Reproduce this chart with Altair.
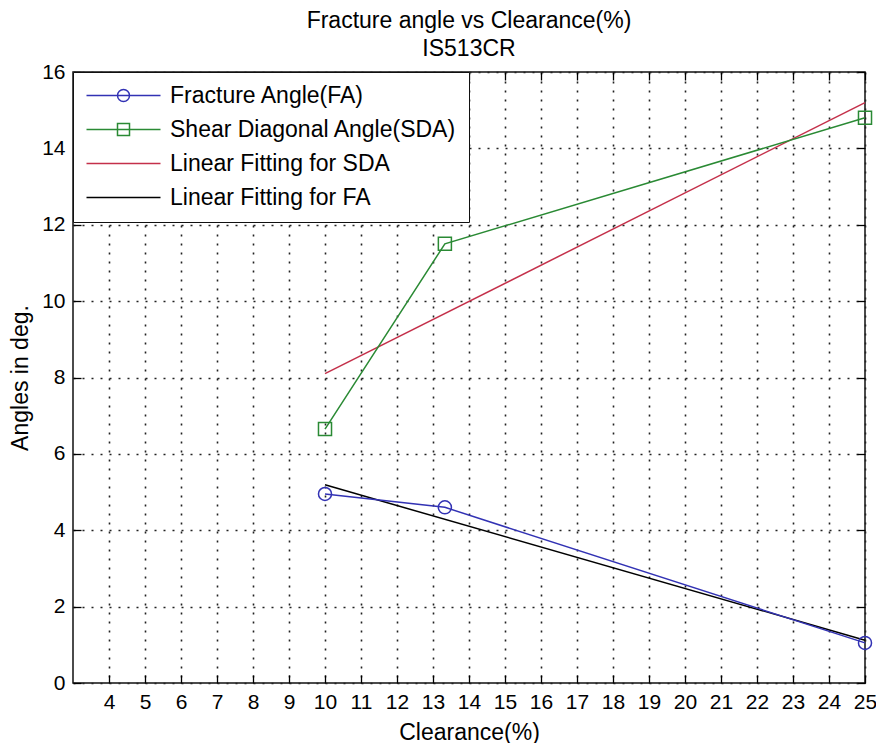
import altair as alt
import pandas as pd

# ---- data ----
clearance = [10, 13.33, 25]
fa_angle = [4.95, 4.6, 1.05]
sda_angle = [6.65, 11.5, 14.8]
fit_x = [10, 25]
fit_sda = [8.1, 15.2]
fit_fa = [5.19, 1.12]

series = ["Fracture Angle(FA)", "Shear Diagonal Angle(SDA)",
          "Linear Fitting for SDA", "Linear Fitting for FA"]
colors = ["#3232b4", "#2a8a34", "#c4304a", "#000000"]
x_ticks = list(range(4, 26))
y_ticks = list(range(0, 17, 2))

# legend symbols: line with marker (custom SVG paths)
legend_paths = [
    "M-1,0H6.4M3.3,0A0.6,0.6,0,1,1,2.1,0A0.6,0.6,0,1,1,3.3,0Z",
    "M-1,0H6.4M2.1,-0.6H3.3V0.6H2.1Z",
    "M-1,0H6.4",
    "M-1,0H6.4",
]

rows = []
for x, y in zip(clearance, fa_angle):
    rows.append({"c": x, "a": y, "s": series[0], "kind": "data"})
for x, y in zip(clearance, sda_angle):
    rows.append({"c": x, "a": y, "s": series[1], "kind": "data"})
for x, y in zip(fit_x, fit_sda):
    rows.append({"c": x, "a": y, "s": series[2], "kind": "fit"})
for x, y in zip(fit_x, fit_fa):
    rows.append({"c": x, "a": y, "s": series[3], "kind": "fit"})
df = pd.DataFrame(rows)

FONT = "Liberation Sans"
x_scale = alt.Scale(domain=[3, 25], nice=False, zero=False)
y_scale = alt.Scale(domain=[0, 16], nice=False, zero=False)
color_enc = alt.Color("s:N", scale=alt.Scale(domain=series, range=colors), legend=None)

grid_common = dict(grid=True, gridColor="#222222", gridDash=[2, 7], gridWidth=1.6,
                   ticks=False, domain=False, labelFont=FONT, labelFontSize=21,
                   labelColor="black", titleFont=FONT, titleFontSize=23,
                   titleFontWeight="normal", titleColor="black")

x_main = alt.Axis(orient="bottom", values=x_ticks, labelPadding=8, title="Clearance(%)",
                  titlePadding=9, labelFlush=False, **grid_common)
y_main = alt.Axis(orient="left", values=y_ticks, labelPadding=8, title="Angles in deg.",
                  titlePadding=9, **grid_common)

def inward(orient, values):
    return alt.Axis(orient=orient, values=values, offset=-8, tickSize=8, tickColor="black",
                    tickWidth=1.3, labels=False, domain=False, grid=False, title=None)

fit_layer = alt.Chart(df).transform_filter(alt.datum.kind == "fit").mark_line(
    strokeWidth=1.5).encode(
    x=alt.X("c:Q", scale=x_scale, axis=x_main),
    y=alt.Y("a:Q", scale=y_scale, axis=y_main),
    color=color_enc,
)

data_lines = alt.Chart(df).transform_filter(alt.datum.kind == "data").mark_line(
    strokeWidth=1.5).encode(
    x=alt.X("c:Q", scale=x_scale, axis=inward("bottom", x_ticks)),
    y=alt.Y("a:Q", scale=y_scale, axis=inward("left", y_ticks)),
    color=color_enc,
)

points = alt.Chart(df).transform_filter(alt.datum.kind == "data").mark_point(
    filled=False, size=170, strokeWidth=1.5, opacity=1).encode(
    x=alt.X("c:Q", scale=x_scale, axis=inward("top", x_ticks)),
    y=alt.Y("a:Q", scale=y_scale, axis=inward("right", y_ticks)),
    color=color_enc,
    shape=alt.Shape("s:N", scale=alt.Scale(domain=series[:2], range=["circle", "square"]),
                    legend=None),
)

leg = alt.Legend(title=None, orient="none", legendX=0, legendY=0)
legend_layer = alt.Chart(df).transform_filter("false").mark_point(
    filled=False, opacity=1).encode(
    color=alt.Color("s:N", scale=alt.Scale(domain=series, range=colors), legend=leg),
    shape=alt.Shape("s:N", scale=alt.Scale(domain=series, range=legend_paths), legend=leg),
)

chart = alt.layer(fit_layer, data_lines, points, legend_layer).resolve_scale(
    shape="independent", color="independent").resolve_axis(
    x="independent", y="independent").properties(
    width=792, height=611,
    autosize=alt.AutoSizeParams(type="none"),
    padding={"left": 65, "top": 64, "right": 11, "bottom": 60},
    title=alt.TitleParams(text=["Fracture angle vs Clearance(%)", "IS513CR"],
                          font=FONT, fontSize=23, fontWeight="normal", color="black",
                          anchor="middle", offset=0, lineHeight=28),
).configure_view(stroke="#111111", strokeWidth=1.5).configure_legend(
    strokeColor="#111111", fillColor="white", padding=12, labelFont=FONT,
    labelFontSize=23, labelColor="black", symbolSize=400, symbolStrokeWidth=1.5,
    labelOffset=62, rowPadding=10, labelLimit=0,
)

chart.save("out.html", embed_options={"renderer": "svg", "actions": False})
